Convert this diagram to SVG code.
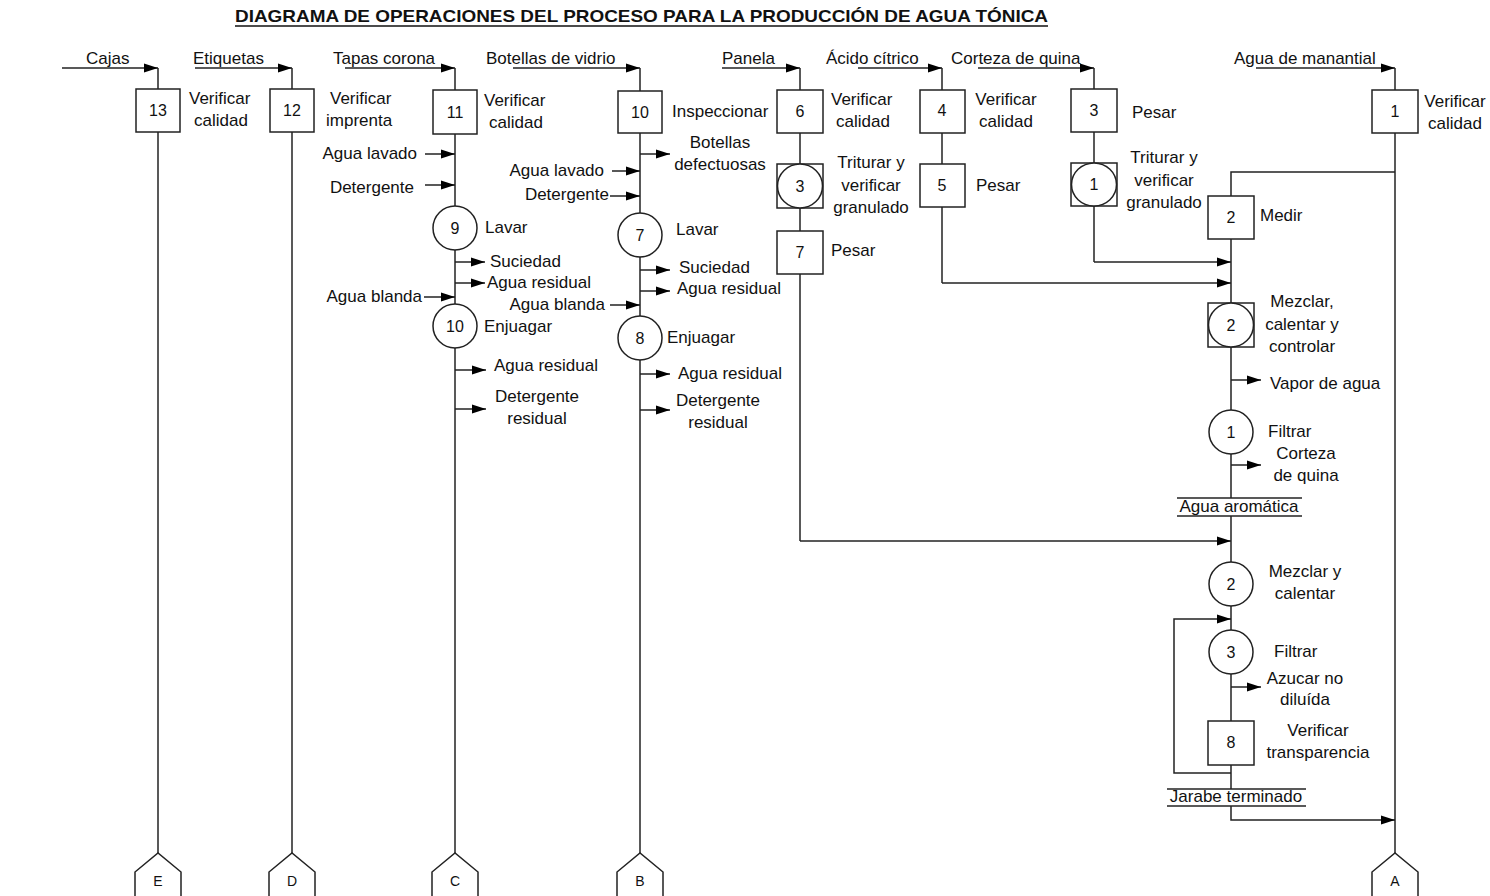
<svg xmlns="http://www.w3.org/2000/svg" width="1490" height="896" viewBox="0 0 1490 896">
  <defs>
    <marker id="arr" markerUnits="userSpaceOnUse" markerWidth="15" markerHeight="10" refX="14" refY="5" orient="auto">
      <path d="M0,0.5 L14,5 L0,9.5 Z" fill="#000"/>
    </marker>
    <style>
      text { font-family: "Liberation Sans", Arial, sans-serif; font-size: 17px; fill: #111; }
      .num { text-anchor: middle; font-size: 16px; }
      .mid { text-anchor: middle; }
      .end { text-anchor: end; }
      .title { font-size: 17px; font-weight: bold; }
      .pg { text-anchor: middle; font-size: 14px; }
      .box, .circ, .pent { fill: #fff; stroke: #222; stroke-width: 1.5; }
      .ln { fill: none; stroke: #222; stroke-width: 1.5; }
      .ar { fill: none; stroke: #222; stroke-width: 1.5; marker-end: url(#arr); }
    </style>
  </defs>
  <rect width="1490" height="896" fill="#fff"/>

  <!-- title -->
  <text class="title" x="235" y="22" textLength="813" lengthAdjust="spacingAndGlyphs">DIAGRAMA DE OPERACIONES DEL PROCESO PARA LA PRODUCCIÓN DE AGUA TÓNICA</text>
  <line x1="235" y1="26" x2="1048" y2="26" stroke="#111" stroke-width="1.5"/>

  <!-- connectors -->
  <g id="connectors">
    <!-- material inputs at the top -->
    <path class="ar" d="M62,68 H158"/>
    <path class="ar" d="M195,68 H292"/>
    <path class="ar" d="M345,68 H455"/>
    <path class="ar" d="M513,68 H640"/>
    <path class="ar" d="M722,68 H800"/>
    <path class="ar" d="M858,68 H942"/>
    <path class="ar" d="M978,68 H1094"/>
    <path class="ar" d="M1256,68 H1395"/>

    <!-- vertical lines -->
    <path class="ln" d="M158,68 V853"/>
    <path class="ln" d="M292,68 V853"/>
    <path class="ln" d="M455,68 V853"/>
    <path class="ln" d="M640,68 V853"/>
    <path class="ln" d="M1395,68 V853"/>
    <path class="ln" d="M800,68 V541"/>
    <path class="ar" d="M800,541 H1231"/>
    <path class="ln" d="M942,68 V283"/>
    <path class="ar" d="M942,283 H1231"/>
    <path class="ln" d="M1094,68 V262"/>
    <path class="ar" d="M1094,262 H1231"/>

    <!-- main line of the syrup -->
    <path class="ln" d="M1395,172 H1231 V498"/>
    <path class="ln" d="M1231,516 V789"/>
    <path class="ar" d="M1231,806 V820 H1395"/>
    <path class="ar" d="M1231,773 H1174 V619 H1231"/>

    <!-- column C side flows -->
    <path class="ar" d="M425,154 H455"/>
    <path class="ar" d="M425,185 H455"/>
    <path class="ar" d="M455,262 H485"/>
    <path class="ar" d="M455,283 H485"/>
    <path class="ar" d="M424,297 H455"/>
    <path class="ar" d="M455,370 H486"/>
    <path class="ar" d="M455,409 H486"/>

    <!-- column B side flows -->
    <path class="ar" d="M640,154 H670"/>
    <path class="ar" d="M612,171 H640"/>
    <path class="ar" d="M610,196 H640"/>
    <path class="ar" d="M640,270 H670"/>
    <path class="ar" d="M640,291 H670"/>
    <path class="ar" d="M610,305 H640"/>
    <path class="ar" d="M640,374 H670"/>
    <path class="ar" d="M640,410 H670"/>

    <!-- main column side flows -->
    <path class="ar" d="M1231,380 H1261"/>
    <path class="ar" d="M1231,465 H1261"/>
    <path class="ar" d="M1231,687 H1261"/>
  </g>

  <!-- input labels -->
  <g id="inputs">
    <text x="86" y="64">Cajas</text>
    <text x="193" y="64">Etiquetas</text>
    <text x="333" y="64">Tapas corona</text>
    <text x="486" y="64">Botellas de vidrio</text>
    <text x="722" y="64">Panela</text>
    <text x="826" y="64">Ácido cítrico</text>
    <text x="951" y="64">Corteza de quina</text>
    <text x="1234" y="64">Agua de manantial</text>
  </g>

  <!-- column E -->
  <g id="n13">
    <rect class="box" x="136" y="89" width="44" height="43"/>
    <text class="num" x="158" y="116">13</text>
    <text x="189" y="104">Verificar</text>
    <text x="194" y="126">calidad</text>
  </g>
  <g id="offE">
    <path class="pent" d="M135,900 V872 L158,853 L181,872 V900"/>
    <text class="pg" x="158" y="886">E</text>
  </g>

  <!-- column D -->
  <g id="n12">
    <rect class="box" x="270" y="89" width="44" height="43"/>
    <text class="num" x="292" y="116">12</text>
    <text x="330" y="104">Verificar</text>
    <text x="326" y="126">imprenta</text>
  </g>
  <g id="offD">
    <path class="pent" d="M269,900 V872 L292,853 L315,872 V900"/>
    <text class="pg" x="292" y="886">D</text>
  </g>

  <!-- column C -->
  <g id="n11">
    <rect class="box" x="433" y="90" width="44" height="44"/>
    <text class="num" x="455" y="118">11</text>
    <text x="484" y="106">Verificar</text>
    <text x="489" y="128">calidad</text>
  </g>
  <g id="flowsC">
    <text class="end" x="417" y="159">Agua lavado</text>
    <text class="end" x="414" y="193">Detergente</text>
    <text x="490" y="267">Suciedad</text>
    <text x="487" y="288">Agua residual</text>
    <text class="end" x="422" y="302">Agua blanda</text>
    <text x="494" y="371">Agua residual</text>
    <text class="mid" x="537" y="402">Detergente</text>
    <text class="mid" x="537" y="424">residual</text>
  </g>
  <g id="n9">
    <circle class="circ" cx="455" cy="228" r="22"/>
    <text class="num" x="455" y="234">9</text>
    <text x="485" y="233">Lavar</text>
  </g>
  <g id="n10">
    <circle class="circ" cx="455" cy="326" r="22"/>
    <text class="num" x="455" y="332">10</text>
    <text x="484" y="332">Enjuagar</text>
  </g>
  <g id="offC">
    <path class="pent" d="M432,900 V872 L455,853 L478,872 V900"/>
    <text class="pg" x="455" y="886">C</text>
  </g>

  <!-- column B -->
  <g id="n10b">
    <rect class="box" x="618" y="91" width="44" height="42"/>
    <text class="num" x="640" y="118">10</text>
    <text x="672" y="117">Inspeccionar</text>
  </g>
  <g id="flowsB">
    <text class="mid" x="720" y="148">Botellas</text>
    <text class="mid" x="720" y="170">defectuosas</text>
    <text class="end" x="604" y="176">Agua lavado</text>
    <text class="end" x="609" y="200">Detergente</text>
    <text x="679" y="273">Suciedad</text>
    <text x="677" y="294">Agua residual</text>
    <text class="end" x="605" y="310">Agua blanda</text>
    <text x="678" y="379">Agua residual</text>
    <text class="mid" x="718" y="406">Detergente</text>
    <text class="mid" x="718" y="428">residual</text>
  </g>
  <g id="n7b">
    <circle class="circ" cx="640" cy="235" r="22"/>
    <text class="num" x="640" y="241">7</text>
    <text x="676" y="235">Lavar</text>
  </g>
  <g id="n8b">
    <circle class="circ" cx="640" cy="338" r="22"/>
    <text class="num" x="640" y="344">8</text>
    <text x="667" y="343">Enjuagar</text>
  </g>
  <g id="offB">
    <path class="pent" d="M617,900 V872 L640,853 L663,872 V900"/>
    <text class="pg" x="640" y="886">B</text>
  </g>

  <!-- Panela column -->
  <g id="n6">
    <rect class="box" x="777" y="90" width="46" height="43"/>
    <text class="num" x="800" y="117">6</text>
    <text x="831" y="105">Verificar</text>
    <text x="836" y="127">calidad</text>
  </g>
  <g id="n3p">
    <rect class="box" x="777" y="164" width="46" height="44"/>
    <ellipse class="circ" cx="800" cy="186" rx="22.5" ry="22"/>
    <text class="num" x="800" y="192">3</text>
    <text class="mid" x="871" y="168">Triturar y</text>
    <text class="mid" x="871" y="191">verificar</text>
    <text class="mid" x="871" y="213">granulado</text>
  </g>
  <g id="n7p">
    <rect class="box" x="777" y="231" width="46" height="43"/>
    <text class="num" x="800" y="258">7</text>
    <text x="831" y="256">Pesar</text>
  </g>

  <!-- Ácido cítrico column -->
  <g id="n4">
    <rect class="box" x="920" y="90" width="45" height="43"/>
    <text class="num" x="942" y="116">4</text>
    <text class="mid" x="1006" y="105">Verificar</text>
    <text class="mid" x="1006" y="127">calidad</text>
  </g>
  <g id="n5">
    <rect class="box" x="920" y="164" width="45" height="43"/>
    <text class="num" x="942" y="191">5</text>
    <text x="976" y="191">Pesar</text>
  </g>

  <!-- Corteza de quina column -->
  <g id="n3q">
    <rect class="box" x="1071" y="89" width="46" height="43"/>
    <text class="num" x="1094" y="116">3</text>
    <text x="1132" y="118">Pesar</text>
  </g>
  <g id="n1q">
    <rect class="box" x="1071" y="163" width="46" height="43"/>
    <ellipse class="circ" cx="1094" cy="184.5" rx="22.5" ry="21.5"/>
    <text class="num" x="1094" y="190">1</text>
    <text class="mid" x="1164" y="163">Triturar y</text>
    <text class="mid" x="1164" y="186">verificar</text>
    <text class="mid" x="1164" y="208">granulado</text>
  </g>

  <!-- Agua de manantial column -->
  <g id="n1m">
    <rect class="box" x="1372" y="90" width="46" height="43"/>
    <text class="num" x="1395" y="117">1</text>
    <text class="mid" x="1455" y="107">Verificar</text>
    <text class="mid" x="1455" y="129">calidad</text>
  </g>
  <g id="offA">
    <path class="pent" d="M1372,900 V872 L1395,853 L1418,872 V900"/>
    <text class="pg" x="1395" y="886">A</text>
  </g>

  <!-- syrup line -->
  <g id="n2medir">
    <rect class="box" x="1208" y="196" width="46" height="43"/>
    <text class="num" x="1231" y="223">2</text>
    <text x="1260" y="221">Medir</text>
  </g>
  <g id="n2mezclar">
    <rect class="box" x="1208" y="303" width="46" height="44"/>
    <ellipse class="circ" cx="1231" cy="325" rx="22.5" ry="22"/>
    <text class="num" x="1231" y="331">2</text>
    <text class="mid" x="1302" y="307">Mezclar,</text>
    <text class="mid" x="1302" y="330">calentar y</text>
    <text class="mid" x="1302" y="352">controlar</text>
  </g>
  <text x="1270" y="389">Vapor de agua</text>
  <g id="n1filtrar">
    <circle class="circ" cx="1231" cy="432" r="22"/>
    <text class="num" x="1231" y="438">1</text>
    <text x="1268" y="437">Filtrar</text>
  </g>
  <text class="mid" x="1306" y="459">Corteza</text>
  <text class="mid" x="1306" y="481">de quina</text>
  <g id="aguaAromatica">
    <line class="ln" x1="1177" y1="498" x2="1302" y2="498"/>
    <text class="mid" x="1239" y="512">Agua aromática</text>
    <line class="ln" x1="1177" y1="516" x2="1302" y2="516"/>
  </g>
  <g id="n2calentar">
    <circle class="circ" cx="1231" cy="584" r="22"/>
    <text class="num" x="1231" y="590">2</text>
    <text class="mid" x="1305" y="577">Mezclar y</text>
    <text class="mid" x="1305" y="599">calentar</text>
  </g>
  <g id="n3filtrar">
    <circle class="circ" cx="1231" cy="652" r="22"/>
    <text class="num" x="1231" y="658">3</text>
    <text x="1274" y="657">Filtrar</text>
  </g>
  <text class="mid" x="1305" y="684">Azucar no</text>
  <text class="mid" x="1305" y="705">diluída</text>
  <g id="n8">
    <rect class="box" x="1208" y="721" width="46" height="44"/>
    <text class="num" x="1231" y="748">8</text>
    <text class="mid" x="1318" y="736">Verificar</text>
    <text class="mid" x="1318" y="758">transparencia</text>
  </g>
  <g id="jarabe">
    <line class="ln" x1="1167" y1="789" x2="1306" y2="789"/>
    <text class="mid" x="1236" y="802">Jarabe terminado</text>
    <line class="ln" x1="1167" y1="806" x2="1306" y2="806"/>
  </g>
</svg>
